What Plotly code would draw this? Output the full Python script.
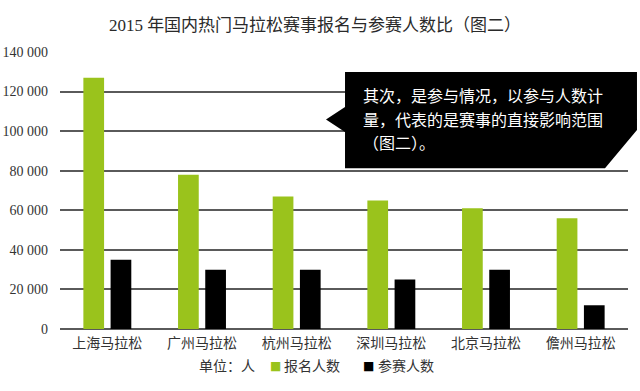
import plotly.graph_objects as go

# ---- data ----
categories = ["上海马拉松", "广州马拉松", "杭州马拉松", "深圳马拉松", "北京马拉松", "儋州马拉松"]
registered = [127000, 78000, 67000, 65000, 61000, 56000]
participants = [35000, 30000, 30000, 25000, 30000, 12000]
series_names = ["报名人数", "参赛人数"]
y_ticks = [0, 20000, 40000, 60000, 80000, 100000, 120000, 140000]
title_text = "2015 年国内热门马拉松赛事报名与参赛人数比（图二）"
unit_text = "单位：人"
callout_lines = ["其次，是参与情况，以参与人数计", "量，代表的是赛事的直接影响范围", "（图二）。"]

W, H = 640, 391
ML, MR, MT, MB = 60, 12, 52, 62
PW = W - ML - MR
PH = H - MT - MB

def px(x):
    return (x - ML) / PW

def py(y):
    return (H - MB - y) / PH

GREEN = "#9ac31c"
COLORS = [GREEN, "#000000"]
FONT = "Liberation Serif, Noto Sans CJK SC, serif"
TXT = "#333333"

fig = go.Figure()
for name, vals, col in zip(series_names, [registered, participants], COLORS):
    fig.add_trace(go.Bar(x=categories, y=vals, name=name,
                         marker=dict(color=col, line=dict(width=0))))

# callout shape
pts = [(326, 119.5), (345, 107), (345, 72), (637, 72), (637, 130),
       (605, 168.3), (345, 168.3), (345, 132)]
path = "M " + " L ".join(f"{px(a):.4f},{py(b):.4f}" for a, b in pts) + " Z"
fig.add_shape(type="path", path=path, xref="paper", yref="paper",
              fillcolor="#000000", line=dict(color="#000000", width=0), layer="above")

line_y = [95, 119, 142]
for txt, yy in zip(callout_lines, line_y):
    fig.add_annotation(text=txt, xref="paper", yref="paper", x=px(361), y=py(yy),
                       xanchor="left", yanchor="middle", showarrow=False,
                       font=dict(family="Noto Sans CJK SC, serif", size=16, color="#ffffff"))

# legend row (unit label + series keys)
LEG_Y = py(366)
fig.add_annotation(text=unit_text, xref="paper", yref="paper", x=px(197), y=LEG_Y,
                   xanchor="left", yanchor="middle", showarrow=False,
                   font=dict(family=FONT, size=14, color=TXT))
for name, col, sx, tx in zip(series_names, COLORS, [268, 361], [282, 376]):
    fig.add_annotation(text="■", xref="paper", yref="paper", x=px(sx), y=LEG_Y,
                       xanchor="left", yanchor="middle", showarrow=False,
                       font=dict(family="DejaVu Sans", size=12, color=col))
    fig.add_annotation(text=name, xref="paper", yref="paper", x=px(tx), y=LEG_Y,
                       xanchor="left", yanchor="middle", showarrow=False,
                       font=dict(family=FONT, size=14, color=TXT))

fig.update_layout(
    width=W, height=H,
    margin=dict(l=ML, r=MR, t=MT, b=MB, autoexpand=False),
    paper_bgcolor="#ffffff", plot_bgcolor="#ffffff",
    separators=". ",
    barmode="group", bargap=0.425, bargroupgap=0.239,
    font=dict(family=FONT, color=TXT, size=14),
    title=dict(text=title_text, x=315 / W, xanchor="center", xref="container",
               y=1 - 25 / H, yanchor="middle", yref="container",
               font=dict(family=FONT, size=17, color="#2a2a2a")),
    showlegend=False,
    xaxis=dict(showgrid=False, showline=False, ticks="", automargin=False,
               tickfont=dict(size=14, color=TXT), ticklabelstandoff=4),
    yaxis=dict(range=[0, 140000], tickvals=y_ticks, tickformat=",d", automargin=False,
               showgrid=True, gridcolor="#5a5a5a", gridwidth=1.5,
               zeroline=True, zerolinecolor="#5a5a5a", zerolinewidth=1.5,
               showline=False, ticks="", ticklabelstandoff=11,
               tickfont=dict(size=14, color=TXT)),
)

fig.write_html("out.html")
